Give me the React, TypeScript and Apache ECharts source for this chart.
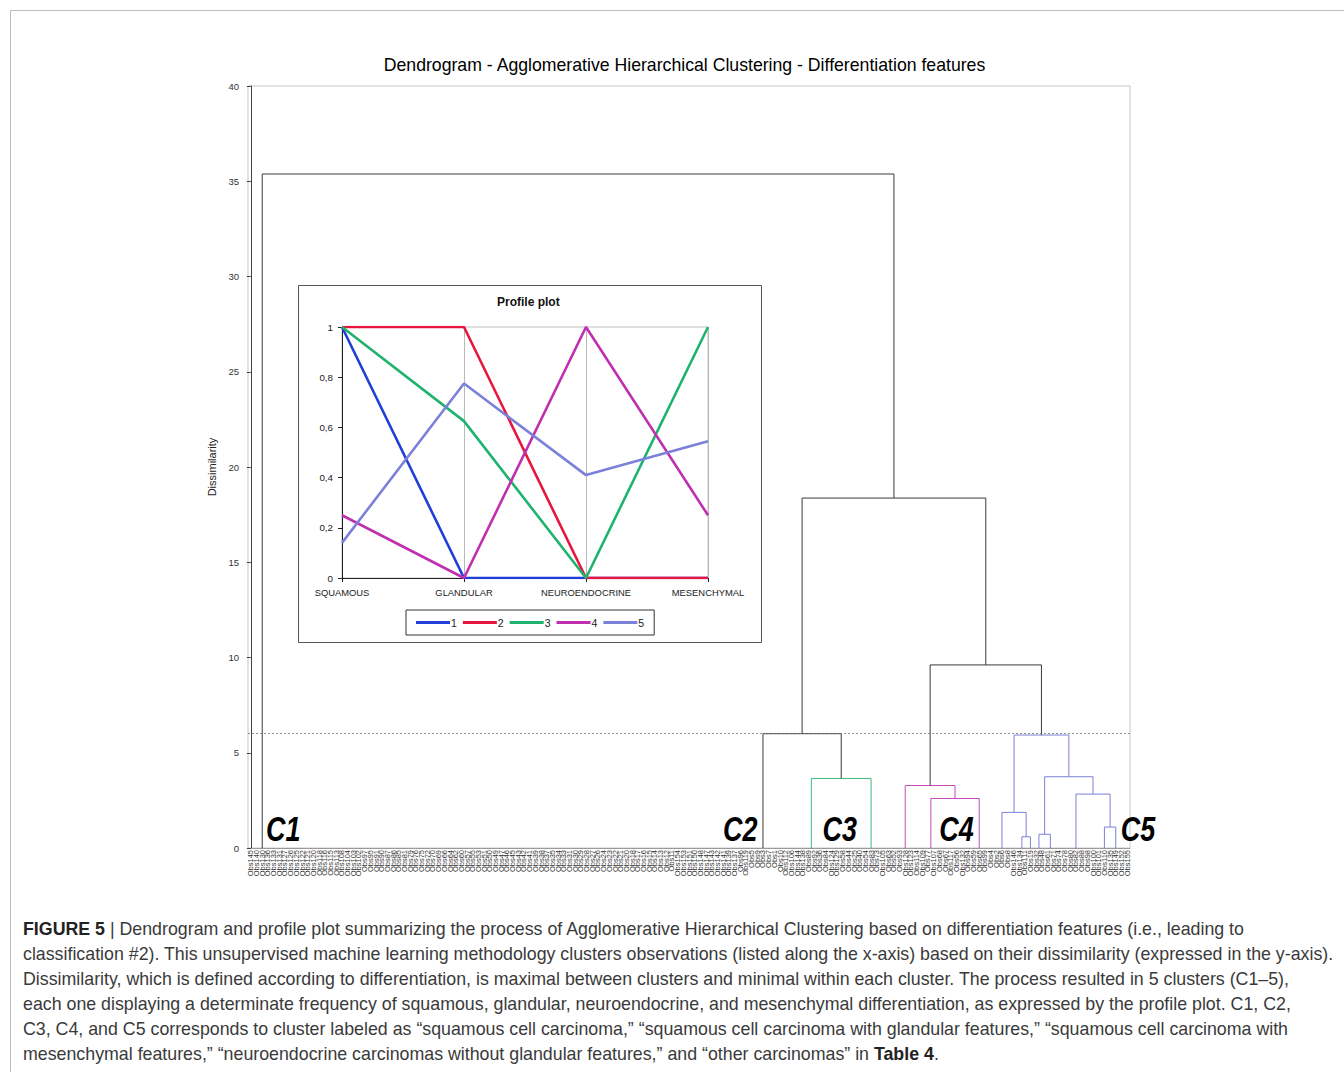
import React, { useEffect, useRef } from "react";
import * as echarts from "echarts";

// ---------- Dendrogram data ----------
const obsNumbers = [
  145, 140, 130, 136, 133, 131, 127, 126, 125, 122,
  121, 120, 118, 116, 115, 113, 108, 104, 103, 102,
  97, 95, 91, 90, 87, 86, 85, 81, 79, 76,
  75, 72, 70, 69, 66, 64, 62, 60, 57, 55,
  53, 51, 50, 49, 47, 46, 45, 43, 42, 41,
  39, 38, 37, 35, 34, 33, 31, 30, 29, 28,
  27, 26, 24, 23, 22, 21, 20, 18, 17, 16,
  15, 14, 13, 12, 11, 154, 153, 151, 150, 148,
  147, 143, 142, 141, 139, 137,
  96, 119, 5, 9, 3, 7, 1, 10, 112, 106,
  144, 138, 89, 92, 36, 84, 124, 129, 58, 44, 25, 40, 54, 83, 73, 105, 63,
  52, 93, 128, 123, 114, 109, 77, 107, 68, 67, 117, 56, 132, 94, 59, 65, 99,
  4, 2, 6, 8, 146, 134, 111, 19, 32, 48, 61, 71, 74, 78, 80, 82, 88, 98, 100, 101, 110, 135, 149, 152, 155,
];
const leafLabels = obsNumbers.map((n) => "Obs" + n);

// zero-height groups of identical observations: leaf index where each group's stem reaches the axis
const groupIds = ["g1", "g2", "g3a", "g3b", "g4a", "g4b", "g4c", "g5a", "g5b", "g5c", "g5d", "g5e", "g5f", "g5g", "g5h"];
const groupAnchors = [2, 90, 98.5, 109, 115, 119.5, 128, 132, 135.5, 137, 138.5, 140.5, 145, 150, 152];

// agglomeration steps: node, left child, right child, dissimilarity, cluster
const mergeIds = ["n1", "n2", "n3", "n4", "n5", "n6", "n7", "n8", "n9", "n10", "n11", "n12", "n13", "n14"];
const mergeLeft = ["g5b", "g5a", "g5d", "g5g", "g5f", "n3", "n2", "g4b", "g4a", "n9", "g3a", "g2", "n12", "g1"];
const mergeRight = ["g5c", "n1", "g5e", "g5h", "n4", "n5", "n6", "g4c", "n8", "n7", "g3b", "n11", "n10", "n13"];
const mergeHeights = [0.59, 1.87, 0.72, 1.1, 2.83, 3.74, 5.93, 2.6, 3.28, 9.61, 3.65, 6.0, 18.37, 35.38];
const mergeCluster = ["C5", "C5", "C5", "C5", "C5", "C5", "C5", "C4", "C4", "", "C3", "", "", ""];

const truncationLevel = 6.0;

const clusterNames = ["C1", "C2", "C3", "C4", "C5"];
const clusterLabelPos = [5.7, 86, 103.5, 124, 155.9];
const clusterLabelLevel = 1.0;

const yTicks = { min: 0, max: 40, interval: 5 };

// ---------- Profile plot data ----------
const profileCategories = ["SQUAMOUS", "GLANDULAR", "NEUROENDOCRINE", "MESENCHYMAL"];
const profile1 = [1, 0, 0, 0];
const profile2 = [1, 1, 0, 0];
const profile3 = [1, 0.625, 0, 1];
const profile4 = [0.25, 0, 1, 0.25];
const profile5 = [0.14, 0.775, 0.41, 0.545];
const profileNames = ["1", "2", "3", "4", "5"];

const chartTitle = "Dendrogram - Agglomerative Hierarchical Clustering - Differentiation features";

const captionLines = [
  "{b|FIGURE 5} | Dendrogram and profile plot summarizing the process of Agglomerative Hierarchical Clustering based on differentiation features (i.e., leading to",
  "classification #2). This unsupervised machine learning methodology clusters observations (listed along the x-axis) based on their dissimilarity (expressed in the y-axis).",
  "Dissimilarity, which is defined according to differentiation, is maximal between clusters and minimal within each cluster. The process resulted in 5 clusters (C1–5),",
  "each one displaying a determinate frequency of squamous, glandular, neuroendocrine, and mesenchymal differentiation, as expressed by the profile plot. C1, C2,",
  "C3, C4, and C5 corresponds to cluster labeled as “squamous cell carcinoma,” “squamous cell carcinoma with glandular features,” “squamous cell carcinoma with",
  "mesenchymal features,” “neuroendocrine carcinomas without glandular features,” and “other carcinomas” in {b|Table 4}.",
];

const clusterColors: Record<string, string> = { C3: "#3dba7c", C4: "#c64bb8", C5: "#7c80d5", "": "#3a3a3a" };
const profileColors = ["#1f3fd8", "#e8163e", "#1eb36e", "#c02fb0", "#7b80d8"];

const SANS = "'Liberation Sans', Arial, sans-serif";

function measure(text: string, font: string) {
  const c = document.createElement("canvas").getContext("2d");
  if (!c) return 1;
  c.font = font;
  return c.measureText(text).width || 1;
}

function buildDendrogramLines() {
  const pos: Record<string, number> = {};
  const hgt: Record<string, number> = {};
  groupIds.forEach((g, i) => {
    pos[g] = groupAnchors[i];
    hgt[g] = 0;
  });
  const data: any[] = [];
  mergeIds.forEach((id, i) => {
    const l = mergeLeft[i];
    const r = mergeRight[i];
    const h = mergeHeights[i];
    pos[id] = (pos[l] + pos[r]) / 2;
    hgt[id] = h;
    data.push({
      coords: [
        [pos[l], hgt[l]],
        [pos[l], h],
        [pos[r], h],
        [pos[r], hgt[r]],
      ],
      lineStyle: { color: clusterColors[mergeCluster[i]] },
    });
  });
  return data;
}

export default function App() {
  const ref = useRef<HTMLDivElement>(null);
  useEffect(() => {
    if (!ref.current) return;
    const chart = echarts.init(ref.current, null, { renderer: "svg" });
    const n = leafLabels.length;
    const profiles = [profile1, profile2, profile3, profile4, profile5];

    const captionGraphics = captionLines.map((t, k) => ({
      type: "text",
      id: "cap" + k,
      x: 23,
      y: 929 + 25 * k,
      silent: true,
      style: {
        text: t,
        fontSize: 17.8,
        fontFamily: SANS,
        fill: "#3a3a3a",
        verticalAlign: "middle",
        rich: {
          b: { fontSize: 17.8, fontFamily: SANS, fontWeight: "bold", fill: "#222" },
        },
      },
    }));

    const titleFont = "18px 'Liberation Sans'";
    const titleScale = 603 / measure(chartTitle, titleFont);

    chart.setOption({
      animation: false,
      backgroundColor: "#ffffff",
      title: [
        {
          text: "Profile plot",
          left: 497,
          top: 296,
          padding: 0,
          textStyle: { fontSize: 12, fontWeight: "bold", fontFamily: SANS, color: "#111" },
        },
      ],
      legend: {
        data: profileNames,
        left: 406,
        top: 610,
        icon: "rect",
        itemWidth: 34,
        itemHeight: 3,
        itemGap: 6,
        padding: [7, 10, 7, 10],
        borderColor: "#333",
        borderWidth: 1,
        textStyle: { fontSize: 10.5, fontFamily: SANS, color: "#222", padding: [0, 0, 0, -4] },
      },
      grid: [
        {
          left: 248,
          top: 86,
          right: 1344 - 1130,
          bottom: 1072 - 848,
          show: true,
          borderColor: "#c8c8c8",
          borderWidth: 1,
        },
        {
          left: 342,
          top: 327,
          right: 1344 - 708,
          bottom: 1072 - 578,
          show: true,
          borderColor: "#c0c0c0",
          borderWidth: 1,
        },
      ],
      xAxis: [
        {
          type: "category",
          gridIndex: 0,
          data: leafLabels,
          boundaryGap: true,
          axisLine: { lineStyle: { color: "#999", width: 1 } },
          axisTick: { show: false },
          axisLabel: {
            interval: 0,
            rotate: 90,
            fontSize: 7.5,
            fontFamily: SANS,
            color: "#333",
            margin: 2,
          },
          splitLine: { show: false },
        },
        {
          type: "value",
          gridIndex: 0,
          min: -0.5,
          max: n - 0.5,
          show: false,
          splitLine: { show: false },
        },
        {
          type: "category",
          gridIndex: 1,
          data: profileCategories,
          boundaryGap: false,
          axisLine: { lineStyle: { color: "#222", width: 1 } },
          axisTick: { show: true, length: 4, lineStyle: { color: "#222" } },
          axisLabel: { interval: 0, hideOverlap: false, fontSize: 9.4, fontFamily: SANS, color: "#222", margin: 10 },
          splitLine: { show: true, lineStyle: { color: "#b8b8b8", width: 1 } },
        },
      ],
      yAxis: [
        {
          type: "value",
          gridIndex: 0,
          min: yTicks.min,
          max: yTicks.max,
          interval: yTicks.interval,
          name: "Dissimilarity",
          nameLocation: "middle",
          nameGap: 30,
          nameTextStyle: { fontSize: 11, fontFamily: SANS, color: "#222" },
          axisLine: { show: true, lineStyle: { color: "#444", width: 1 } },
          axisTick: { show: true, length: 4, lineStyle: { color: "#444" } },
          axisLabel: { fontSize: 9.5, fontFamily: SANS, color: "#333", margin: 9 },
          splitLine: { show: false },
        },
        {
          type: "value",
          gridIndex: 1,
          min: 0,
          max: 1,
          interval: 0.2,
          axisLine: { show: true, lineStyle: { color: "#222", width: 1 } },
          axisTick: { show: true, length: 4, lineStyle: { color: "#222" } },
          axisLabel: {
            fontSize: 9.8,
            fontFamily: SANS,
            color: "#222",
            margin: 9,
            formatter: (v: number) => String(+v.toFixed(1)).replace(".", ","),
          },
          splitLine: { show: false },
        },
      ],
      series: [
        {
          type: "lines",
          name: "dendrogram",
          coordinateSystem: "cartesian2d",
          xAxisIndex: 1,
          yAxisIndex: 0,
          polyline: true,
          silent: true,
          lineStyle: { width: 1, opacity: 1 },
          data: buildDendrogramLines(),
          z: 3,
        },
        {
          type: "scatter",
          name: "clusters",
          xAxisIndex: 1,
          yAxisIndex: 0,
          clip: false,
          symbolSize: 1,
          itemStyle: { color: "transparent" },
          silent: true,
          data: clusterNames.map((c, i) => ({ value: [clusterLabelPos[i], clusterLabelLevel], name: c })),
          label: { show: false },
          markLine: {
            silent: true,
            symbol: "none",
            label: { show: false },
            lineStyle: { type: [2, 2], color: "#777", width: 0.8 },
            data: [{ yAxis: truncationLevel }],
          },
          z: 4,
        },
        ...profiles.map((d, i) => ({
          type: "line",
          name: profileNames[i],
          xAxisIndex: 2,
          yAxisIndex: 1,
          data: d,
          symbol: "none",
          lineStyle: { width: 2.6, color: profileColors[i] },
          itemStyle: { color: profileColors[i] },
          z: 5,
        })),
      ],
      graphic: [
        {
          type: "rect",
          id: "outerFrame",
          shape: { x: 10.5, y: 10.5, width: 1400, height: 1100 },
          style: { fill: "none", stroke: "#bdbdbd", lineWidth: 1 },
          silent: true,
        },
        {
          type: "rect",
          id: "insetFrame",
          shape: { x: 298.5, y: 285.5, width: 463, height: 357 },
          style: { fill: "none", stroke: "#555", lineWidth: 1 },
          silent: true,
        },
        {
          type: "text",
          id: "mainTitle",
          x: 684.5,
          y: 65,
          scaleX: titleScale,
          style: {
            text: chartTitle,
            fontSize: 18,
            fontFamily: SANS,
            fill: "#000",
            align: "center",
            verticalAlign: "middle",
          },
          silent: true,
        },
        ...captionGraphics,
      ],
    });

    // cluster names, placed through the dendrogram's own scales
    const clFont = "italic bold 35px 'Liberation Sans'";
    const clusterGraphics = clusterNames.map((c, i) => {
      const p = chart.convertToPixel({ xAxisIndex: 1, yAxisIndex: 0 } as any, [clusterLabelPos[i], clusterLabelLevel]) as number[];
      const s = 34.5 / measure(c, clFont);
      return {
        type: "text",
        id: "cluster" + i,
        x: p[0],
        y: p[1],
        scaleX: s,
        silent: true,
        style: {
          text: c,
          fontSize: 35,
          fontStyle: "italic",
          fontWeight: "bold",
          fontFamily: SANS,
          fill: "#000",
          align: "center",
          verticalAlign: "middle",
        },
      };
    });
    chart.setOption({ graphic: clusterGraphics } as any);

    return () => chart.dispose();
  }, []);
  return (
    <div
      ref={ref}
      style={{ position: "fixed", left: 0, top: 0, width: 1344, height: 1072, background: "#fff" }}
    />
  );
}
